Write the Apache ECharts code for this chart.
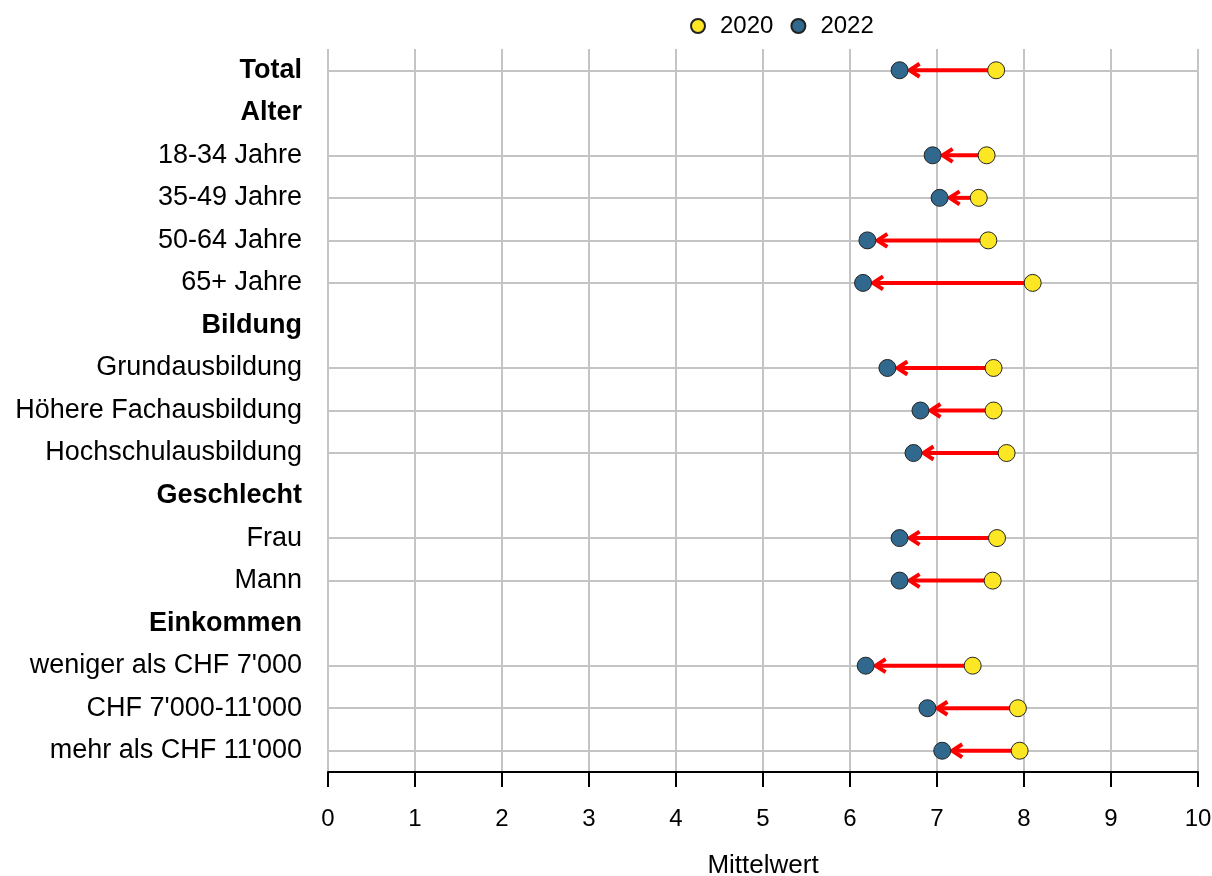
<!DOCTYPE html>
<html><head><meta charset="utf-8">
<script src="https://cdn.jsdelivr.net/npm/echarts@6/dist/echarts.min.js"></script>
<style>html,body{margin:0;padding:0;background:#fff}#c{width:1212px;height:876px}</style>
</head><body><div id="c"></div>
<script>
const categories = ['Total','Alter','18-34 Jahre','35-49 Jahre','50-64 Jahre','65+ Jahre','Bildung','Grundausbildung','Höhere Fachausbildung','Hochschulausbildung','Geschlecht','Frau','Mann','Einkommen',"weniger als CHF 7'000","CHF 7'000-11'000","mehr als CHF 11'000"];
const headers = ['Total','Alter','Bildung','Geschlecht','Einkommen'];
const v2020 = [7.68, null, 7.57, 7.48, 7.59, 8.10, null, 7.65, 7.65, 7.80, null, 7.69, 7.64, null, 7.41, 7.93, 7.95];
const v2022 = [6.57, null, 6.95, 7.03, 6.20, 6.15, null, 6.43, 6.81, 6.73, null, 6.57, 6.57, null, 6.18, 6.89, 7.06];
const xTicks = [0,1,2,3,4,5,6,7,8,9,10];

const FONT = 'Liberation Sans, Arial, sans-serif';
const YELLOW = '#FDE725', BLUE = '#31688E';

const rows = categories.map((c,i)=>({c, a:v2020[i], b:v2022[i]})).filter(r=>r.a!=null);
const chart = echarts.init(document.getElementById('c'));
function arrowStyle(){ return {stroke:'#FF0000', lineWidth:4, fill:null, lineCap:'butt', lineJoin:'miter'}; }
chart.setOption({
  animation:false,
  textStyle:{fontFamily:FONT},
  legend:{top:9, left:685, itemWidth:34, itemHeight:14, itemGap:17,
    textStyle:{fontSize:24, color:'#000', fontFamily:FONT},
    data:['2020','2022']},
  grid:{left:328, right:14, top:49, bottom:104, containLabel:false, outerBoundsMode:'none'},
  xAxis:{type:'value', min:xTicks[0], max:xTicks[xTicks.length-1], interval:1,
    name:'Mittelwert', nameLocation:'middle', nameGap:81,
    nameTextStyle:{fontSize:26, color:'#000', fontFamily:FONT},
    axisLine:{show:true, lineStyle:{color:'#000', width:2}},
    axisTick:{show:true, length:15, lineStyle:{color:'#000', width:2}},
    axisLabel:{fontSize:24, color:'#000', margin:35, fontFamily:FONT, hideOverlap:false},
    splitLine:{show:true, lineStyle:{color:'#C4C4C4', width:2}}},
  yAxis:{type:'category', data:categories, inverse:true, boundaryGap:true,
    axisLine:{show:false}, axisTick:{show:false}, splitLine:{show:false},
    axisLabel:{margin:26, fontSize:27, color:'#000', fontFamily:FONT, interval:0,
      formatter:v=>headers.includes(v)?'{b|'+v+'}':v,
      rich:{b:{fontWeight:'bold', fontSize:27, color:'#000', fontFamily:FONT}}}},
  series:[
    {type:'line', data:[], silent:true, z:1,
      markLine:{silent:true, z:1, symbol:'none', label:{show:false},
        lineStyle:{color:'#C4C4C4', width:2, type:'solid'},
        data: rows.map(r=>({yAxis:r.c}))}},
    {type:'custom', silent:true, z:3,
      data: rows.map(r=>[r.a, r.b, r.c]),
      encode:{x:[0,1], y:2},
      renderItem:(params, api)=>{
        const p1 = api.coord([api.value(0), api.value(2)]);
        const p2 = api.coord([api.value(1), api.value(2)]);
        const dir = p2[0] < p1[0] ? -1 : 1;
        const tip = [p2[0] - dir*10, p2[1]];
        return {type:'group', children:[
          {type:'line', z2:10, shape:{x1:p1[0], y1:p1[1], x2:tip[0]-dir*2, y2:tip[1]}, style:arrowStyle()},
          {type:'polyline', z2:10, shape:{points:[[tip[0]-dir*10, tip[1]-6.5],[tip[0],tip[1]],[tip[0]-dir*10, tip[1]+6.5]]}, style:arrowStyle()}
        ]};
      }},
    {name:'2020', type:'scatter', z:4, symbolSize:17,
      itemStyle:{color:YELLOW, borderColor:'#222', borderWidth:1, opacity:1},
      data: rows.map(r=>[r.a, r.c])},
    {name:'2022', type:'scatter', z:5, symbolSize:17,
      itemStyle:{color:BLUE, borderColor:'#222', borderWidth:1, opacity:1},
      data: rows.map(r=>[r.b, r.c])}
  ]
});
</script></body></html>
